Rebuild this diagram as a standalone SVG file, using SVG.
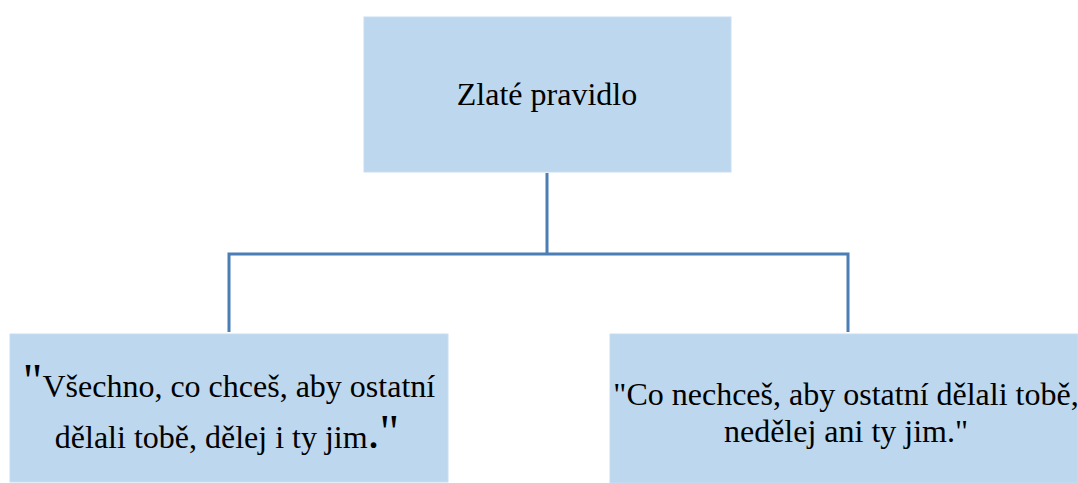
<svg xmlns="http://www.w3.org/2000/svg" width="1078" height="483" viewBox="0 0 1078 483">
<style>
.box{fill:#BDD7EE;stroke:#C8DEF1;stroke-width:1}
.t{font-family:"Liberation Serif","Times New Roman",serif;font-size:32px;fill:#000;text-anchor:middle}
.big{font-size:48px}
.conn{fill:none;stroke:#4A7EB5;stroke-width:3}
</style>
<rect width="1078" height="483" fill="#fff"/>
<g id="connectors">
<path class="conn" d="M547,173 V254 M229,254 H848 M229,252.5 V332 M848,252.5 V332"/>
</g>
<g id="root">
<rect class="box" x="364" y="17" width="367" height="155"/>
<text class="t" x="547" y="105">Zlaté pravidlo</text>
</g>
<g id="left">
<rect class="box" x="10" y="334" width="438" height="148"/>
<text class="t" x="229" y="397"><tspan class="big">"</tspan>Všechno, co chceš, aby ostatní</text>
<text class="t" x="227" y="448">dělali tobě, dělej i ty jim<tspan class="big">."</tspan></text>
</g>
<g id="right">
<rect class="box" x="610" y="334" width="468" height="149"/>
<text class="t" x="846" y="405">"Co nechceš, aby ostatní dělali tobě,</text>
<text class="t" x="846" y="442">nedělej ani ty jim."</text>
</g>
</svg>
